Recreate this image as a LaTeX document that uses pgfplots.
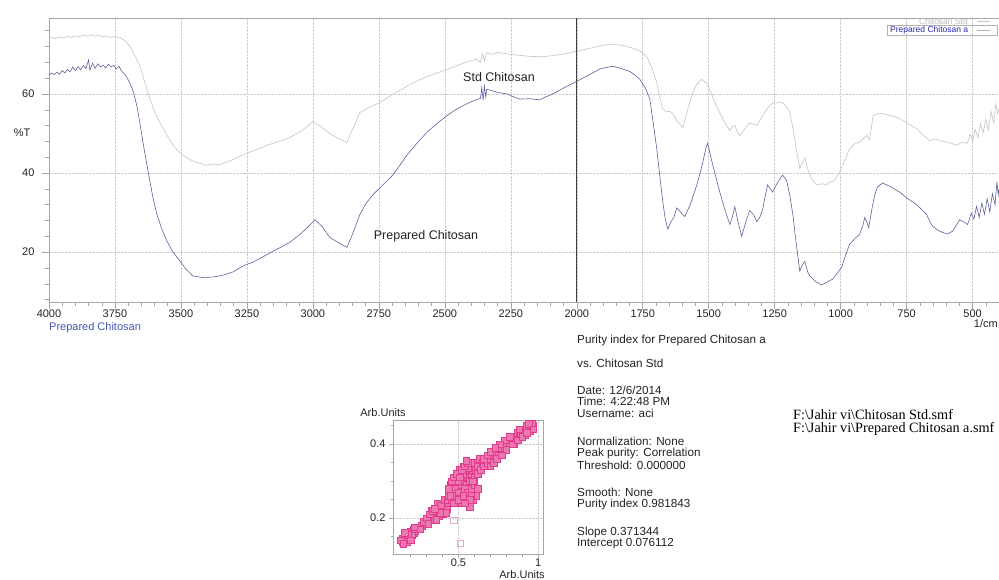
\documentclass[border=0pt]{standalone}
\usepackage{fontspec}
\setmainfont{Liberation Sans}
\newfontfamily\serifx{Liberation Serif}
\usepackage{pgfplots}
\pgfplotsset{compat=1.18}
\usepackage{pgfplotstable}
\definecolor{stdc}{RGB}{195,195,202}
\definecolor{prepc}{RGB}{95,95,155}
\definecolor{pinkc}{RGB}{228,60,140}
\definecolor{pinkf}{RGB}{236,120,178}
\definecolor{pinkl}{RGB}{235,170,200}
\definecolor{txtc}{RGB}{35,35,35}
\definecolor{legblue}{RGB}{40,40,170}
\definecolor{labblue}{RGB}{70,85,180}

\pgfplotstableread{
wn T
4000 74.1
3990 74.3
3975 74.0
3960 74.4
3945 74.2
3930 74.6
3915 74.3
3900 74.7
3885 74.5
3870 74.9
3855 74.6
3840 75.0
3825 74.6
3810 74.8
3795 74.4
3780 74.7
3765 74.3
3750 74.6
3730 74.2
3710 73.4
3693 72.0
3675 69.8
3655 67.0
3635 62.5
3617 58.7
3600 55.5
3580 52.8
3555 49.8
3530 47.0
3505 45.2
3477 43.8
3450 42.9
3428 42.5
3405 42.0
3379 42.3
3355 42.1
3326 42.8
3290 43.8
3250 45.0
3210 46.0
3174 47.0
3130 48.0
3087 49.0
3040 50.8
3000 53.0
2970 51.8
2936 50.0
2900 48.6
2871 47.8
2850 51.0
2822 55.3
2790 56.5
2746 57.8
2700 59.8
2660 61.3
2621 62.8
2560 64.6
2492 66.2
2430 67.8
2380 68.8
2365 67.9
2357 70.2
2350 68.4
2342 70.4
2320 70.0
2303 70.5
2250 70.0
2178 69.5
2130 69.4
2091 69.7
2040 70.2
2000 70.8
1940 71.7
1900 72.3
1864 72.6
1820 72.2
1788 71.6
1760 70.8
1735 69.5
1715 66.5
1697 62.8
1685 59.0
1674 56.2
1660 55.5
1648 55.6
1636 55.0
1618 53.0
1598 51.5
1580 56.0
1561 60.3
1545 62.5
1527 63.7
1510 62.8
1496 61.2
1478 58.0
1458 55.2
1440 52.8
1420 50.7
1410 51.8
1401 52.0
1392 50.5
1383 49.5
1365 51.0
1345 52.7
1330 52.4
1318 52.0
1300 54.0
1280 56.2
1269 57.0
1255 57.8
1242 57.7
1230 57.9
1220 57.7
1205 56.8
1193 55.3
1180 51.0
1168 46.0
1155 41.2
1145 42.5
1136 43.8
1120 40.0
1105 38.0
1091 37.0
1070 37.3
1055 37.0
1042 37.7
1025 38.0
1004 40.2
985 43.0
966 46.2
945 47.5
928 47.8
910 49.0
902 49.5
890 48.5
877 54.5
860 55.0
841 55.0
810 54.5
777 53.8
745 52.5
712 51.2
690 49.8
663 48.2
640 48.6
614 48.0
590 47.8
561 47.0
540 47.8
520 47.5
510 49.8
500 48.2
490 51.0
480 49.0
470 52.5
460 50.2
450 53.6
440 51.0
430 55.5
420 52.8
412 57.5
405 55.0
400 56.5
}\stddata

\pgfplotstableread{
wn T
4000 64.8
3990 65.3
3980 64.9
3970 65.5
3960 65.0
3950 65.9
3940 65.3
3930 66.2
3920 65.6
3910 66.8
3900 65.9
3890 66.9
3880 66.1
3870 67.2
3860 66.4
3850 68.6
3845 66.0
3835 67.8
3825 66.5
3815 67.6
3805 66.8
3795 67.3
3785 66.6
3775 67.5
3765 66.9
3755 67.2
3745 66.3
3735 67.0
3725 65.8
3710 64.8
3693 62.7
3680 60.5
3667 57.0
3655 52.5
3644 47.8
3630 42.5
3617 37.7
3605 33.5
3591 29.5
3572 25.8
3553 22.8
3530 20.0
3504 17.8
3480 15.6
3455 14.0
3420 13.6
3379 13.7
3340 14.2
3303 15.0
3265 16.5
3227 17.5
3190 18.8
3152 20.2
3120 21.3
3087 22.5
3049 24.5
3020 26.3
2992 28.2
2965 26.5
2936 23.7
2900 22.3
2871 21.2
2850 24.5
2822 29.5
2800 32.2
2773 34.5
2735 37.0
2697 39.5
2670 42.0
2644 44.5
2605 47.6
2568 50.3
2530 52.5
2492 54.5
2455 56.2
2417 57.5
2380 58.6
2365 58.9
2360 61.6
2355 58.4
2350 62.0
2345 59.2
2341 61.2
2300 60.4
2265 60.0
2240 59.3
2216 58.7
2180 58.8
2140 58.5
2120 59.2
2091 60.0
2050 61.5
2000 63.2
1960 64.6
1913 66.3
1880 66.8
1864 67.0
1840 66.6
1799 65.7
1780 64.8
1761 63.7
1740 61.5
1723 58.7
1710 52.5
1697 46.2
1685 39.0
1674 32.7
1665 28.5
1655 25.8
1645 27.5
1632 28.8
1621 31.2
1605 30.0
1591 29.0
1570 32.0
1545 37.0
1525 42.0
1510 46.5
1504 47.5
1490 43.5
1475 39.5
1458 35.2
1440 31.0
1420 27.0
1410 29.0
1401 31.5
1390 28.0
1375 24.0
1360 27.5
1345 30.5
1330 29.5
1318 27.7
1305 29.0
1295 31.0
1285 34.5
1277 37.0
1265 35.8
1258 35.2
1240 37.5
1220 39.5
1205 38.2
1193 34.5
1180 29.0
1174 25.3
1165 20.5
1155 15.2
1145 16.8
1136 17.7
1125 15.0
1117 14.0
1095 12.6
1072 11.7
1050 12.5
1030 13.2
1015 14.5
996 16.2
980 19.5
966 22.0
945 23.5
928 24.5
915 27.0
909 28.7
900 27.5
894 26.2
880 31.5
871 34.5
860 36.5
841 37.5
810 36.5
777 35.2
745 33.5
712 32.0
690 30.6
674 29.5
660 27.5
651 26.5
630 25.5
614 25.0
595 24.6
576 25.3
560 27.0
549 28.2
530 27.5
519 27.0
505 29.8
495 28.4
485 31.6
475 28.8
465 32.4
455 29.6
445 33.5
435 30.2
425 34.8
415 32.0
408 37.8
403 34.5
400 36.0
}\prepdata

\pgfplotstableread{
x y
0.15 0.135
0.16 0.14
0.17 0.14
0.16 0.15
0.18 0.145
0.19 0.15
0.17 0.155
0.20 0.15
0.21 0.16
0.19 0.16
0.22 0.16
0.20 0.165
0.23 0.165
0.18 0.135
0.21 0.155
0.24 0.17
0.15 0.145
0.22 0.17
0.25 0.175
0.17 0.148
0.14 0.14
0.155 0.13
0.185 0.155
0.20 0.14
0.225 0.175
0.165 0.16
0.27 0.18
0.29 0.185
0.30 0.19
0.31 0.20
0.32 0.195
0.33 0.21
0.34 0.205
0.35 0.215
0.33 0.22
0.36 0.22
0.37 0.215
0.38 0.23
0.35 0.20
0.39 0.225
0.40 0.24
0.38 0.205
0.41 0.23
0.42 0.245
0.37 0.24
0.40 0.21
0.43 0.225
0.36 0.195
0.44 0.24
0.42 0.215
0.28 0.19
0.30 0.20
0.32 0.21
0.34 0.22
0.26 0.17
0.31 0.185
0.39 0.235
0.41 0.25
0.385 0.215
0.35 0.225
0.43 0.25
0.44 0.26
0.45 0.27
0.46 0.25
0.47 0.28
0.48 0.26
0.45 0.29
0.49 0.30
0.50 0.28
0.51 0.29
0.52 0.31
0.50 0.32
0.53 0.30
0.54 0.32
0.55 0.33
0.52 0.27
0.56 0.31
0.57 0.34
0.58 0.32
0.55 0.29
0.59 0.33
0.60 0.35
0.61 0.33
0.48 0.31
0.47 0.24
0.51 0.33
0.53 0.34
0.57 0.30
0.62 0.34
0.60 0.31
0.46 0.28
0.49 0.26
0.54 0.28
0.58 0.35
0.63 0.36
0.56 0.27
0.60 0.27
0.59 0.25
0.55 0.25
0.52 0.24
0.57 0.23
0.61 0.26
0.44 0.28
0.50 0.30
0.53 0.32
0.56 0.335
0.48 0.28
0.50 0.25
0.46 0.30
0.47 0.31
0.49 0.32
0.51 0.31
0.52 0.33
0.54 0.34
0.56 0.35
0.45 0.26
0.50 0.27
0.53 0.26
0.58 0.28
0.62 0.32
0.60 0.29
0.59 0.30
0.58 0.26
0.62 0.28
0.57 0.25
0.54 0.24
0.64 0.33
0.65 0.35
0.66 0.34
0.67 0.36
0.68 0.35
0.69 0.37
0.70 0.36
0.71 0.38
0.72 0.37
0.73 0.365
0.74 0.38
0.75 0.39
0.76 0.38
0.77 0.39
0.78 0.40
0.79 0.39
0.80 0.40
0.81 0.41
0.82 0.40
0.83 0.41
0.84 0.42
0.85 0.41
0.86 0.42
0.87 0.43
0.88 0.42
0.89 0.43
0.90 0.44
0.91 0.43
0.92 0.44
0.93 0.45
0.94 0.44
0.95 0.45
0.96 0.44
0.97 0.45
0.95 0.435
0.92 0.425
0.70 0.34
0.75 0.37
0.80 0.385
0.85 0.40
0.66 0.36
0.68 0.37
0.70 0.38
0.72 0.35
0.74 0.36
0.77 0.37
0.79 0.41
0.82 0.42
0.84 0.40
0.87 0.41
0.90 0.42
0.93 0.43
0.96 0.455
0.94 0.455
0.97 0.44
0.88 0.44
0.76 0.40
0.73 0.39
0.55 0.355
}\scatdata

\pgfplotstableread{
x y
0.51 0.132
0.47 0.195
}\scatout

\begin{document}
\begin{tikzpicture}[x=1pt,y=1pt]
\useasboundingbox (0,0) rectangle (999,-579);

\begin{axis}[
  at={(49pt,-302pt)}, anchor=south west, scale only axis,
  width=950pt, height=284pt,
  xmin=400, xmax=4000, x dir=reverse, ymin=7.4, ymax=79.2,
  xtick={500,750,...,4000}, ytick={20,40,60},
  minor xtick={450,500,...,3950},
  minor ytick={8,12,16,24,28,32,36,44,48,52,56,64,68,72,76},
  xtick pos=left, ytick pos=left,
  tick align=outside, major tick length=7pt, minor tick length=4pt,
  xmajorgrids, ymajorgrids,
  major grid style={densely dotted, gray!40, line width=0.5pt},
  axis line style={gray!70, line width=0.6pt},
  tick style={gray!70, line width=0.5pt},
  ticklabel style={font=\fontsize{11}{11}\selectfont, text=txtc},
  xticklabel style={yshift=2.5pt},
  yticklabel style={xshift=-4pt},
  /pgf/number format/1000 sep={}, /pgf/number format/assume math mode=true,
]
\addplot[stdc, line width=0.6pt] table[x=wn,y=T] {\stddata};
\addplot[prepc, line width=0.6pt] table[x=wn,y=T] {\prepdata};
\draw[black!75, line width=0.6pt] (axis cs:2000,7.4) -- (axis cs:2000,79.2);
\end{axis}

% axis titles and annotations
\node[text=txtc, font=\fontsize{11}{11}\selectfont] at (22,-133) {\%T};
\node[text=txtc, anchor=east, font=\fontsize{11}{11}\selectfont, inner sep=0pt] at (998,-324) {1/cm};
\node[text=labblue, anchor=west, font=\fontsize{11}{11}\selectfont, inner sep=0pt] at (49,-327.5) {Prepared Chitosan};
\node[text=txtc, anchor=base, font=\fontsize{12.5}{12.5}\selectfont, inner sep=0pt] at (499,-81.5) {Std Chitosan};
\node[text=txtc, anchor=base, font=\fontsize{12.5}{12.5}\selectfont, inner sep=0pt] at (426,-239.5) {Prepared Chitosan};

% legend
\node[text=gray!55, anchor=east, font=\fontsize{8.5}{8.5}\selectfont, inner sep=0pt] at (968,-21) {Chitosan Std};
\draw[stdc, line width=0.5pt] (977,-21) -- (990,-21);
\draw[gray!60, line width=0.5pt] (887,-25.5) rectangle (997,-35);
\node[text=legblue, anchor=west, font=\fontsize{8.5}{8.5}\selectfont, inner sep=0pt] at (890,-30.2) {Prepared Chitosan a};
\draw[gray!60, line width=0.5pt] (977,-30.2) -- (990,-30.2);

% inset scatter
\begin{axis}[
  at={(393pt,-554pt)}, anchor=south west, scale only axis,
  width=150pt, height=134pt,
  xmin=0.09, xmax=1.03, ymin=0.103, ymax=0.465,
  xtick={0.5,1}, ytick={0.2,0.4},
  minor xtick={0.2,0.3,0.4,0.6,0.7,0.8,0.9},
  minor ytick={0.15,0.25,0.3,0.35,0.45},
  xtick pos=left, ytick pos=left,
  tick align=outside, major tick length=4pt, minor tick length=2.5pt,
  xmajorgrids, ymajorgrids,
  major grid style={densely dotted, gray!40, line width=0.5pt},
  axis line style={gray!70, line width=0.6pt},
  tick style={gray!70, line width=0.5pt},
  ticklabel style={font=\fontsize{11}{11}\selectfont, text=txtc},
  xticklabel style={yshift=2.5pt},
  /pgf/number format/assume math mode=true,
]
\addplot[scatter, only marks, mark=square*, mark size=3.3pt, point meta=x,
  scatter/use mapped color={draw=pinkc, fill=pinkf}, line width=0.5pt]
  table[x=x,y=y] {\scatdata};
\addplot[scatter, only marks, mark=square, mark size=3.2pt, point meta=x,
  scatter/use mapped color={draw=pinkl}, line width=0.5pt]
  table[x=x,y=y] {\scatout};
\end{axis}
\node[text=txtc, font=\fontsize{11}{11}\selectfont] at (383,-413) {Arb.Units};
\node[text=txtc, font=\fontsize{11}{11}\selectfont, inner sep=0pt] at (522,-574.5) {Arb.Units};

% purity text
\begin{scope}[every node/.style={anchor=west, text=txtc, font=\fontsize{11.7}{11.7}\selectfont, inner sep=0pt}]
\node at (577,-340) {Purity index for Prepared Chitosan a};
\node at (577,-363) {vs. Chitosan Std};
\node at (577,-390) {Date: 12/6/2014};
\node at (577,-401.7) {Time: 4:22:48 PM};
\node at (577,-413.4) {Username: aci};
\node at (577,-441.5) {Normalization: None};
\node at (577,-453.2) {Peak purity: Correlation};
\node at (577,-464.9) {Threshold: 0.000000};
\node at (577,-492.7) {Smooth: None};
\node at (577,-504.4) {Purity index 0.981843};
\node at (577,-532) {Slope 0.371344};
\node at (577,-543.7) {Intercept 0.076112};
\end{scope}
\begin{scope}[every node/.style={anchor=west, text=black, font=\serifx\fontsize{14.2}{14.2}\selectfont, inner sep=0pt}]
\node at (793,-414.5) {F:\textbackslash Jahir vi\textbackslash Chitosan Std.smf};
\node at (793,-429.5) {F:\textbackslash Jahir vi\textbackslash Prepared Chitosan a.smf};
\end{scope}
\end{tikzpicture}
\end{document}
